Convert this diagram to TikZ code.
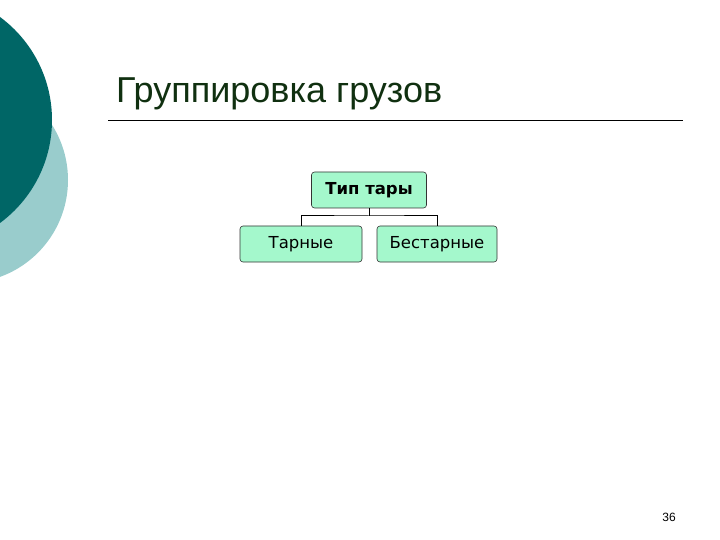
\documentclass[tikz,border=0pt]{standalone}
\usepackage{fontspec}
\setmainfont{Liberation Sans}
\newfontfamily\boxfont{DejaVu Sans}
\definecolor{tealdark}{RGB}{0,102,102}
\definecolor{teallight}{RGB}{153,204,204}
\definecolor{titlegreen}{RGB}{16,48,16}
\definecolor{mint}{RGB}{164,248,204}
\begin{document}
\begin{tikzpicture}[x=1pt,y=-1pt,
    box/.style={draw=black!80,fill=mint,rounded corners=3pt,line width=0.6pt,
        minimum height=36pt,inner sep=0pt,font=\boxfont\fontsize{16.5}{19}\selectfont},
    link/.style={draw=black,line width=1pt}]

        \useasboundingbox (0,0) rectangle (720,540);
        \begin{scope}
            \clip (0,0) rectangle (720,540);
            \fill[teallight] (-35,180) circle[radius=103pt];
            \fill[tealdark] (-76,120) circle[radius=128pt];
        \end{scope}

        \node[anchor=base west,text=titlegreen,font=\fontsize{36}{42}\selectfont,inner sep=0pt] (title) at (116,103) {Группировка грузов};
        \draw[line width=0.7pt] (108,120) -- (683,120);

        \node[box,minimum width=115pt,font=\boxfont\bfseries\fontsize{16.5}{19}\selectfont] (T) at (369,190) {Тип тары};
        \node[box,minimum width=122pt] (A) at (301,244) {Тарные};
        \node[box,minimum width=120pt] (B) at (437,244) {Бестарные};

        \coordinate (J) at (369,216);
        \draw[link] (T) -- (J);
        \draw[link] (A) |- (J) -| (B);

        \node[font=\fontsize{12}{14}\selectfont] (P) at (669,517) {36};

    \end{tikzpicture}
\end{document}
